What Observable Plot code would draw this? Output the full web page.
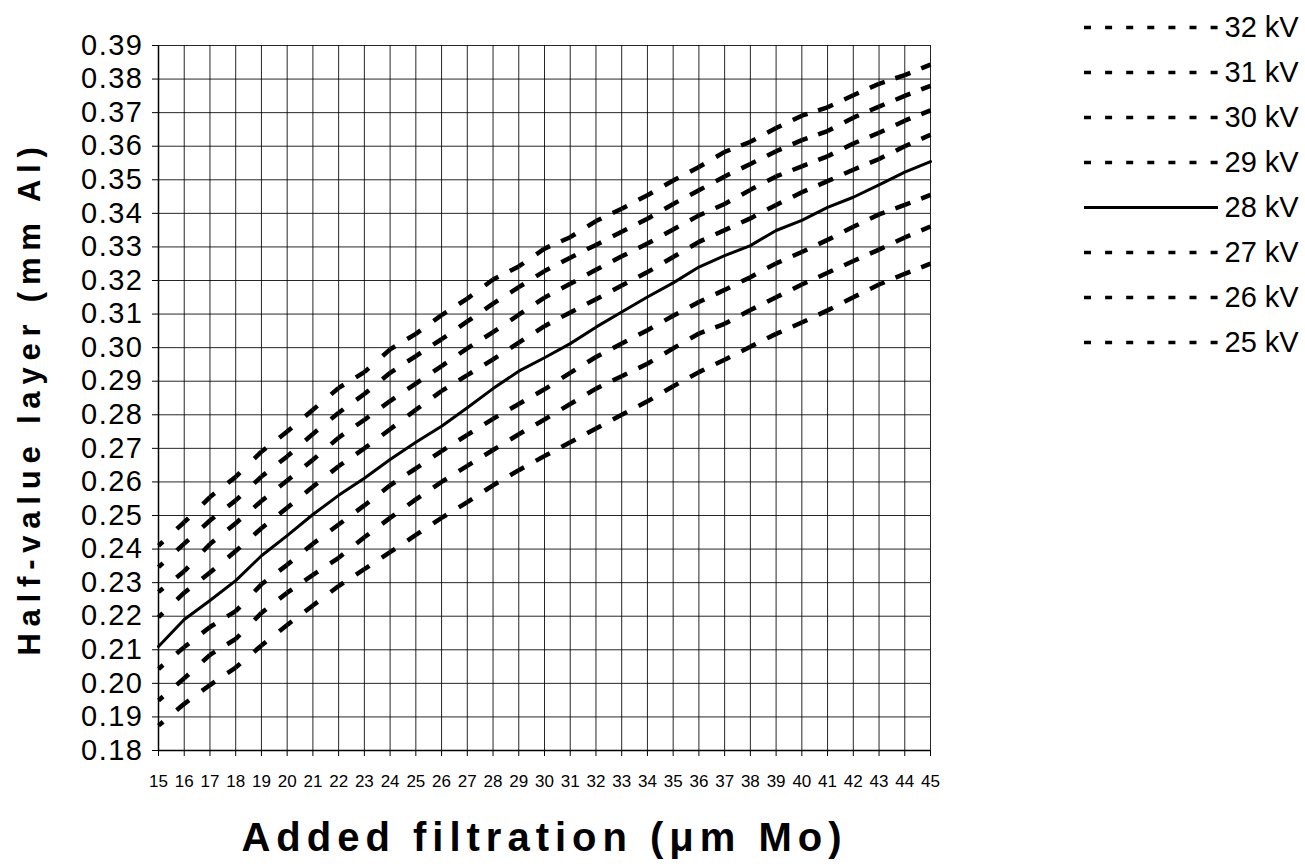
<!DOCTYPE html>
<html><head><meta charset="utf-8">
<script src="https://cdn.jsdelivr.net/npm/d3@7"></script>
<script src="https://cdn.jsdelivr.net/npm/@observablehq/plot@0.6"></script>
<style>
body{margin:0;background:#fff;font-family:"Liberation Sans",Arial,sans-serif;}
#wrap{position:relative;width:1305px;height:867px;overflow:hidden;}
#legend{position:absolute;left:1075px;top:0;}
</style></head><body>
<div id="wrap"><div id="chart"></div><div id="legend"></div></div>
<script>
// Added filtration (µm Mo)
const filtration = [15,16,17,18,19,20,21,22,23,24,25,26,27,28,29,30,31,32,33,34,35,36,37,38,39,40,41,42,43,44,45];
// Half-value layer (mm Al) per tube voltage
const kv32 = [.241,.248,.2555,.2615,.269,.275,.2815,.288,.2927,.2995,.3041,.3097,.3146,.3203,.3242,.3295,.3329,.3377,.3414,.3454,.3498,.3538,.3583,.3613,.3654,.3691,.3716,.3752,.3786,.3812,.3843];
const kv31 = [.2346,.2416,.2485,.2545,.2616,.2676,.2743,.2806,.2862,.2925,.2975,.3025,.3078,.3131,.318,.3228,.3268,.3306,.3345,.3384,.3428,.3469,.351,.3547,.3585,.3618,.3645,.3685,.3718,.375,.378];
const kv30 = [.2272,.2334,.2415,.2477,.2543,.2604,.2666,.2732,.2785,.2841,.2893,.2945,.2998,.3046,.3098,.3149,.319,.3232,.3272,.331,.3352,.3394,.3428,.347,.351,.354,.357,.3608,.364,.3676,.3707];
const kv29 = [.2197,.227,.233,.2394,.2462,.2523,.2586,.2647,.27,.2757,.2815,.2871,.2918,.2965,.3015,.3064,.3105,.3144,.3185,.3225,.327,.3315,.335,.3385,.3425,.3463,.3496,.353,.3562,.36,.3634];
const kv28 = [.211,.219,.2247,.2306,.238,.244,.2503,.256,.2611,.2667,.2718,.2766,.2821,.2878,.293,.297,.3012,.3061,.3106,.3151,.3193,.324,.3274,.3304,.3349,.3379,.3418,.3448,.3485,.3523,.3554];
const kv27 = [.2043,.2108,.2168,.2215,.2295,.2353,.2416,.2473,.253,.259,.264,.2692,.274,.2788,.2832,.2876,.2925,.2972,.3012,.3052,.3095,.3136,.3172,.321,.3251,.3285,.3321,.336,.3397,.3425,.3455];
const kv26 = [.1949,.2015,.2085,.2132,.221,.227,.2323,.2374,.2435,.2493,.2548,.26,.2648,.2695,.2742,.2786,.2832,.2878,.2915,.2952,.2998,.3042,.3071,.3112,.315,.3188,.3223,.3258,.3292,.3328,.3361];
const kv25 = [.1874,.1939,.1995,.2047,.2113,.2174,.2232,.229,.234,.2391,.2442,.2493,.254,.259,.2635,.2677,.2718,.2759,.28,.284,.2885,.2927,.2964,.3003,.3041,.3075,.3111,.315,.3188,.322,.325];
const seriesNames = ["32 kV","31 kV","30 kV","29 kV","28 kV","27 kV","26 kV","25 kV"];
const seriesValues = [kv32,kv31,kv30,kv29,kv28,kv27,kv26,kv25];
const hvlTicks = [0.18,0.19,0.20,0.21,0.22,0.23,0.24,0.25,0.26,0.27,0.28,0.29,0.30,0.31,0.32,0.33,0.34,0.35,0.36,0.37,0.38,0.39];
const xTitle = "Added filtration (\u03bcm Mo)";
const yTitle = "Half-value layer (mm Al)";
const solidSeries = "28 kV";

// build tables
const points = [];
const segments = [];
seriesNames.forEach((name, s) => {
  const v = seriesValues[s];
  filtration.forEach((f, i) => {
    points.push({series: name, x: f, y: v[i]});
    if (i < filtration.length - 1) segments.push({series: name, x1: f, y1: v[i], x2: filtration[i+1], y2: v[i+1]});
  });
});
const dashed = segments.filter(d => d.series !== solidSeries);

const chart = Plot.plot({
  width: 1305, height: 867,
  marginLeft: 158, marginRight: 375, marginTop: 45, marginBottom: 117,
  style: {fontFamily: '"Liberation Sans", Arial, sans-serif', background: "#fff", color: "#000"},
  x: {domain: [15, 45]},
  y: {domain: [0.18, 0.39]},
  marks: [
    Plot.gridX(filtration, {stroke: "#000", strokeOpacity: 0.85, strokeWidth: 1}),
    Plot.gridY(hvlTicks, {stroke: "#000", strokeOpacity: 0.85, strokeWidth: 1}),
    Plot.axisX({ticks: filtration, tickFormat: d => String(d), tickSize: 6, tickPadding: 18, fontSize: 17, label: null}),
    Plot.axisY({ticks: hvlTicks, tickFormat: d3.format(".2f"), tickSize: 6, tickPadding: 9, fontSize: 29, label: null}),
    Plot.ruleX([15], {stroke: "#000", strokeWidth: 1.5}),
    Plot.ruleY([0.18], {stroke: "#000", strokeWidth: 1.5}),
    // each dash straddles a data point: a short piece after it and a longer piece before the next one
    Plot.link(dashed, {x1: "x1", y1: "y1", x2: "x2", y2: "y2",
      stroke: "#000", strokeWidth: 4.5, strokeDasharray: "6 1000", strokeLinecap: "butt"}),
    Plot.link(dashed, {x1: "x2", y1: "y2", x2: "x1", y2: "y1",
      stroke: "#000", strokeWidth: 4.5, strokeDasharray: "10 1000", strokeLinecap: "butt"}),
    Plot.line(points.filter(d => d.series === solidSeries), {x: "x", y: "y", stroke: "#000", strokeWidth: 3}),
    Plot.text([xTitle], {frameAnchor: "bottom", lineAnchor: "middle", dy: 88, fontSize: 40, fontWeight: "bold", fill: "#000"}),
    Plot.text([yTitle], {frameAnchor: "left", lineAnchor: "middle", textAnchor: "middle", rotate: -90, dx: -128, fontSize: 31, fontWeight: "bold", fill: "#000"})
  ]
});
document.getElementById("chart").appendChild(chart);

// letter spacing of the axis titles and y tick labels (as in the original)
d3.select(chart).selectAll("text").filter(function(){ return this.textContent === xTitle; }).style("letter-spacing", "6px");
d3.select(chart).selectAll("text").filter(function(){ return this.textContent === yTitle; }).style("letter-spacing", "6.8px");
d3.select(chart).selectAll("text").filter(function(){ return /^0\.\d\d$/.test(this.textContent); }).style("letter-spacing", "1.5px");

// legend
const legend = Plot.plot({
  width: 230, height: 370,
  marginLeft: 0, marginRight: 0, marginTop: 0, marginBottom: 0,
  style: {fontFamily: '"Liberation Sans", Arial, sans-serif', background: "transparent", color: "#000"},
  x: {domain: [0, 1], range: [9, 143], axis: null},
  y: {type: "point", domain: seriesNames, range: [26, 343], padding: 0, axis: null},
  marks: [
    Plot.ruleY(seriesNames.filter(d => d !== solidSeries), {y: d => d, x1: 0, x2: 1, stroke: "#000", strokeWidth: 3.5, strokeDasharray: "7 14.1"}),
    Plot.ruleY([solidSeries], {y: d => d, x1: 0, x2: 1, stroke: "#000", strokeWidth: 3}),
    Plot.text(seriesNames, {y: d => d, x: 1, dx: 6, textAnchor: "start", fontSize: 29, fill: "#000"})
  ]
});
document.getElementById("legend").appendChild(legend);
</script>
</body></html>
